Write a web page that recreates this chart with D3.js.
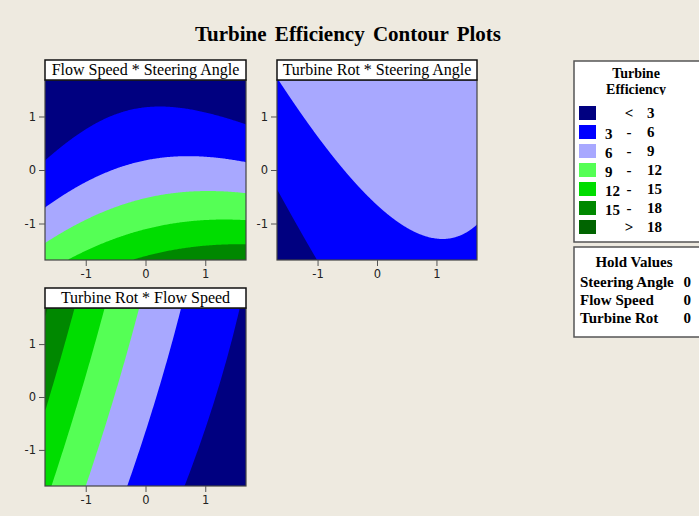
<!DOCTYPE html>
<html>
<head>
<meta charset="utf-8">
<script src="https://cdn.jsdelivr.net/npm/d3@7"></script>
<style>
  body { margin: 0; background: #eeeae0; }
  svg { display: block; }
</style>
</head>
<body>
<svg id="chart" width="699" height="516"></svg>
<script>
// chart values
const chartTitle = "Turbine Efficiency Contour Plots";
const legendTitle = ["Turbine", "Efficiency"];
const factorNames = ["Steering Angle", "Flow Speed", "Turbine Rot"];
const holdValues = [0, 0, 0];

// fitted response surface (coded units)
const intercept = 6.70;
const linearCoef = [0.95, -4.0, 1.07];
const squareCoef = [-0.56, 0.72, 0.0];
const interactionPairs = [[0, 1], [0, 2], [1, 2]];
const interactionCoef = [-0.575, -0.22, -0.37];

const levels = [3, 6, 9, 12, 15, 18];
const levelColors = ["#000080", "#0000ff", "#a8a8ff", "#55ff55", "#00dd00", "#008800", "#006400"];
const legendLeft = ["", "3", "6", "9", "12", "15", ""];
const legendMid = ["<", "-", "-", "-", "-", "-", ">"];
const legendRight = ["3", "6", "9", "12", "15", "18", "18"];

// [x factor, y factor] of each panel
const panelPairs = [[0, 1], [0, 2], [1, 2]];
const tickValues = [-1, 0, 1];
const axisRange = [-1.682, 1.682];

const svg = d3.select("#chart");
const serif = "'Liberation Serif', 'Times New Roman', serif";
const sans = "'DejaVu Sans', Tahoma, sans-serif";

function response(x) {
    var y = intercept;
    for (var i = 0; i < 3; i++) {
        y += linearCoef[i] * x[i] + squareCoef[i] * x[i] * x[i];
    }
    interactionPairs.forEach(([a, b], k) => {
        y += interactionCoef[k] * x[a] * x[b];
    });
    return y;
}

svg.append("text")
    .attr("x", 348).attr("y", 41)
    .attr("text-anchor", "middle")
    .style("font-family", serif)
    .style("font-weight", "bold")
    .style("font-size", "21px")
    .style("word-spacing", "3px")
    .text(chartTitle);

// plot boxes (left, top, width, height)
const boxes = [
    { x: 45, y: 80, w: 201, h: 180 },
    { x: 277, y: 80, w: 200, h: 180 },
    { x: 45, y: 308, w: 201, h: 178 },
];

const n = 180;
const span = axisRange[1] - axisRange[0];

panelPairs.forEach(([fx, fy], p) => {
    var box = boxes[p];
    var g = svg.append("g");

    var xScale = d3.scaleLinear().domain(axisRange).range([box.x, box.x + box.w]);
    var yScale = d3.scaleLinear().domain(axisRange).range([box.y + box.h, box.y]);

    // grid of values
    var values = new Array(n * n);
    for (var j = 0; j < n; j++) {
        for (var i = 0; i < n; i++) {
            var x = holdValues.slice();
            x[fx] = axisRange[0] + (i + 0.5) / n * span;
            x[fy] = axisRange[0] + (j + 0.5) / n * span;
            values[i + j * n] = response(x);
        }
    }

    var contours = d3.contours().size([n, n]).thresholds(levels)(values);

    var project = d3.geoTransform({
        point: function (gx, gy) {
            this.stream.point(
                xScale(axisRange[0] + gx / n * span),
                yScale(axisRange[0] + gy / n * span)
            );
        }
    });
    var path = d3.geoPath(project);

    var clipId = "clip" + p;
    g.append("clipPath").attr("id", clipId)
        .append("rect")
        .attr("x", box.x).attr("y", box.y)
        .attr("width", box.w).attr("height", box.h);

    var area = g.append("g").attr("clip-path", `url(#${clipId})`);
    area.append("rect")
        .attr("x", box.x).attr("y", box.y)
        .attr("width", box.w).attr("height", box.h)
        .attr("fill", levelColors[0]);
    area.selectAll("path")
        .data(contours)
        .join("path")
        .attr("d", path)
        .attr("fill", (d, k) => levelColors[k + 1]);

    // frame
    g.append("rect")
        .attr("x", box.x).attr("y", box.y)
        .attr("width", box.w).attr("height", box.h)
        .attr("fill", "none")
        .attr("stroke", "#444")
        .attr("stroke-width", 1.2);

    // axes
    var xAxis = g.append("g")
        .attr("transform", `translate(0,${box.y + box.h})`)
        .call(d3.axisBottom(xScale).tickValues(tickValues).tickSize(6).tickPadding(4).tickFormat(d => String(d)));
    var yAxis = g.append("g")
        .attr("transform", `translate(${box.x},0)`)
        .call(d3.axisLeft(yScale).tickValues(tickValues).tickSize(6).tickPadding(3).tickFormat(d => String(d)));
    [xAxis, yAxis].forEach(a => {
        a.select(".domain").remove();
        a.selectAll("line").attr("stroke", "#555");
        a.selectAll("text")
            .attr("fill", "#222")
            .style("font-family", sans)
            .style("font-size", "11.5px");
    });

    // panel title
    g.append("rect")
        .attr("x", box.x).attr("y", box.y - 20)
        .attr("width", box.w).attr("height", 20)
        .attr("fill", "white")
        .attr("stroke", "#111")
        .attr("stroke-width", 1.5);
    g.append("text")
        .attr("x", box.x + box.w / 2).attr("y", box.y - 5)
        .attr("text-anchor", "middle")
        .style("font-family", serif)
        .style("font-size", "16px")
        .text(factorNames[fy] + " * " + factorNames[fx]);
});

// legend
var legend = svg.append("g");
legend.append("rect")
    .attr("x", 574).attr("y", 61).attr("width", 140).attr("height", 181)
    .attr("fill", "white").attr("stroke", "#555").attr("stroke-width", 1.5);
legend.append("clipPath").attr("id", "headclip")
    .append("rect").attr("x", 574).attr("y", 61).attr("width", 140).attr("height", 34);
legend.append("g")
    .attr("clip-path", "url(#headclip)")
    .selectAll("text")
    .data(legendTitle)
    .join("text")
    .attr("x", 636).attr("y", (d, i) => 78 + i * 16)
    .attr("text-anchor", "middle")
    .style("font-family", serif).style("font-weight", "bold").style("font-size", "14px")
    .text(d => d);

var rows = legend.selectAll("g.row")
    .data(levelColors)
    .join("g")
    .attr("class", "row")
    .attr("transform", (d, i) => `translate(0,${106 + i * 19})`);
rows.append("rect")
    .attr("x", 579).attr("y", 0).attr("width", 17).attr("height", 14)
    .attr("fill", d => d);
rows.append("text")
    .attr("x", 605).attr("y", 14)
    .text((d, i) => legendLeft[i]);
rows.append("text")
    .attr("x", 629).attr("y", 12)
    .attr("text-anchor", "middle")
    .text((d, i) => legendMid[i]);
rows.append("text")
    .attr("x", 647).attr("y", 12)
    .text((d, i) => legendRight[i]);
rows.selectAll("text")
    .style("font-family", serif).style("font-weight", "bold").style("font-size", "15px");

// hold values
var hold = svg.append("g");
hold.append("rect")
    .attr("x", 574).attr("y", 247).attr("width", 140).attr("height", 90)
    .attr("fill", "white").attr("stroke", "#555").attr("stroke-width", 1.5);
hold.append("text")
    .attr("x", 634).attr("y", 267)
    .attr("text-anchor", "middle")
    .text("Hold Values");
var holdRows = hold.selectAll("g.hrow")
    .data(factorNames)
    .join("g")
    .attr("class", "hrow")
    .attr("transform", (d, i) => `translate(0,${287 + i * 18})`);
holdRows.append("text").attr("x", 580).attr("y", 0).text(d => d);
holdRows.append("text").attr("x", 691).attr("y", 0).attr("text-anchor", "end").text((d, i) => holdValues[i]);
hold.selectAll("text")
    .style("font-family", serif).style("font-weight", "bold").style("font-size", "15px");
</script>
</body>
</html>
